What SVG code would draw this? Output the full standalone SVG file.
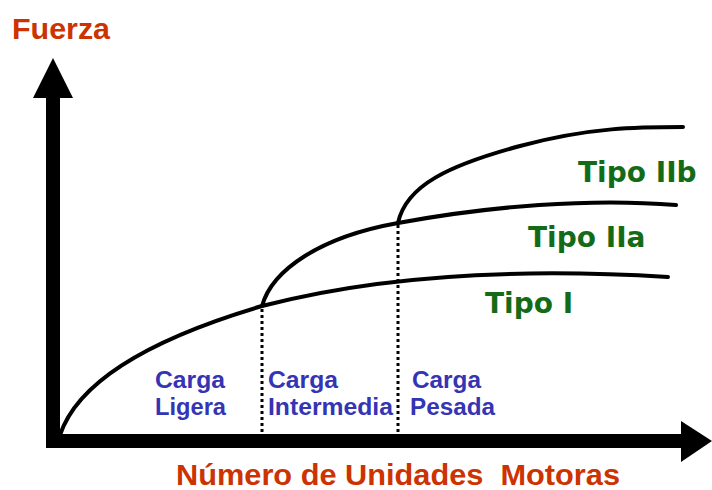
<svg xmlns="http://www.w3.org/2000/svg" width="712" height="490" viewBox="0 0 712 490">
<style>
.curve{fill:none;stroke:#000;stroke-width:4;stroke-linecap:round}
.dot{fill:none;stroke:#000;stroke-width:3;stroke-dasharray:3 3}
.axis{fill:#000}
.title{font-family:"Liberation Sans",Arial,sans-serif;font-weight:bold;fill:#cc3300}
.load{font-family:"Liberation Sans",Arial,sans-serif;font-weight:bold;font-size:23px;fill:#3434b4}
.tipo{font-family:"DejaVu Sans",Verdana,sans-serif;font-weight:bold;font-size:28px;fill:#146b17}
</style>
<rect width="712" height="490" fill="#fff"/>
<g id="axes">
<rect class="axis" x="46" y="96" width="14" height="352"/>
<polygon class="axis" points="53,58 33,98 73,98"/>
<rect class="axis" x="46" y="434" width="636" height="14"/>
<polygon class="axis" points="712,441 681,421 681,462"/>
</g>
<g id="connectors">
<path class="dot" d="M262,309 L262,434"/>
<path class="dot" d="M398,225 L398,434"/>
</g>
<g id="tipo-i-curve"><path class="curve" d="M60,435 C75,390 130,345 262,306 C380,275 520,268 668,277"/></g>
<g id="tipo-iia-curve"><path class="curve" d="M262,306 C272,270 320,237 398,223 C490,206 590,198 676,205"/></g>
<g id="tipo-iib-curve"><path class="curve" d="M398,223 C406,185 450,165 520,146 C590,127 640,127 683,127"/></g>
<g id="label-fuerza"><text class="title" x="12" y="39" font-size="30" textLength="98" lengthAdjust="spacingAndGlyphs">Fuerza</text></g>
<g id="label-x"><text class="title" x="176" y="485" font-size="30" xml:space="preserve" textLength="444" lengthAdjust="spacingAndGlyphs">Número de Unidades  Motoras</text></g>
<g id="label-tipo-iib"><text class="tipo" x="578" y="182">Tipo IIb</text></g>
<g id="label-tipo-iia"><text class="tipo" x="528" y="247">Tipo IIa</text></g>
<g id="label-tipo-i"><text class="tipo" x="485" y="313">Tipo I</text></g>
<g id="carga-ligera"><text class="load" x="155" y="388" textLength="70" lengthAdjust="spacingAndGlyphs">Carga</text><text class="load" x="155" y="415" textLength="71" lengthAdjust="spacingAndGlyphs">Ligera</text></g>
<g id="carga-intermedia"><text class="load" x="268" y="388" textLength="70" lengthAdjust="spacingAndGlyphs">Carga</text><text class="load" x="268" y="415" textLength="125" lengthAdjust="spacingAndGlyphs">Intermedia</text></g>
<g id="carga-pesada"><text class="load" x="412" y="388" textLength="69" lengthAdjust="spacingAndGlyphs">Carga</text><text class="load" x="410" y="415" textLength="85" lengthAdjust="spacingAndGlyphs">Pesada</text></g>
</svg>
